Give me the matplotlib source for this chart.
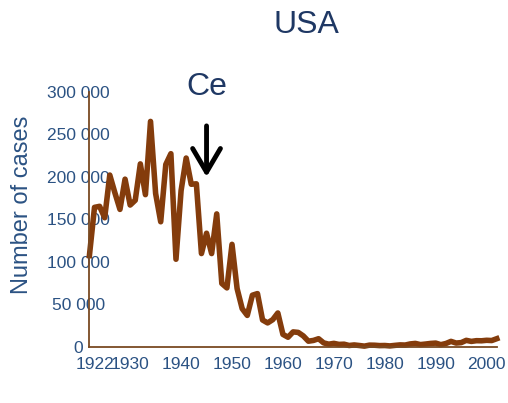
import numpy as np
import matplotlib.pyplot as plt
from matplotlib.transforms import ScaledTranslation

plt.rcParams['font.family'] = ['Liberation Sans', 'DejaVu Sans']

# reported pertussis cases, USA
years = np.arange(1922, 2003)
cases = [107473, 164191, 165418, 152003, 202210, 181411, 161799, 197371,
         166914, 172559, 215343, 179135, 265269, 180518, 147237, 214652,
         227319, 103188, 183866, 222202, 191383, 191890, 109873, 133792,
         109860, 156517, 74715, 69479, 120718, 68687, 45030, 37129,
         60886, 62786, 31732, 28295, 32148, 40005, 14809, 11468,
         17749, 17135, 13005, 6799, 7717, 9718, 4810, 3285,
         4249, 3036, 3287, 1759, 2402, 1738, 1010, 2177,
         2063, 1623, 1730, 1248, 1895, 2463, 2276, 3589,
         4195, 2823, 3450, 4157, 4570, 2719, 4083, 6586,
         4617, 5137, 7796, 6564, 7405, 7288, 7867, 7580, 9771]

xticks = [1922, 1930, 1940, 1950, 1960, 1970, 1980, 1990, 2000]
yticks = [0, 50000, 100000, 150000, 200000, 250000, 300000]
ytick_labels = ['0', '50 000', '100 000', '150 000', '200 000', '250 000', '300 000']

vaccine_year = 1945
vaccine_level = 200000

line_color = '#843c0c'
text_color = '#2b5283'

fig = plt.figure(figsize=(5.08, 4.03), dpi=100)
ax = fig.add_axes([0.176, 0.139, 0.802, 0.633])

ax.plot(years, cases, color=line_color, lw=4, solid_joinstyle='round', clip_on=False)

ax.set_xlim(1922, 2002)
ax.set_ylim(0, 300000)

for side in ['top', 'right']:
    ax.spines[side].set_visible(False)
for side in ['left', 'bottom']:
    ax.spines[side].set_color('#7a4a22')
    ax.spines[side].set_linewidth(1.3)

ax.set_xticks(xticks)
ax.set_yticks(yticks)
ax.set_yticklabels(ytick_labels)
ax.tick_params(axis='both', length=0, labelsize=12.5, labelcolor=text_color)
ax.tick_params(axis='y', pad=8)
ax.tick_params(axis='x', pad=7)
for lab in ax.get_yticklabels():
    lab.set_horizontalalignment('center')

# first year label runs into the next one
first = ax.get_xticklabels()[0]
first.set_transform(first.get_transform() + ScaledTranslation(4 / 72, 0, fig.dpi_scale_trans))

fig.text(0.043, 0.492, 'Number of cases', fontsize=17, color=text_color,
         rotation=90, ha='center', va='center')

# vaccine introduction
ax.annotate('', xy=(vaccine_year, vaccine_level), xytext=(vaccine_year, 260000),
            arrowprops=dict(arrowstyle='->, head_length=0.85, head_width=0.5',
                            mutation_scale=20, lw=3.5, color='black',
                            shrinkA=0, shrinkB=0),
            annotation_clip=False)
ax.text(vaccine_year, 306000, 'Ce', fontsize=23, color='#1f3864',
        ha='center', va='center', clip_on=False)

fig.text(0.604, 0.938, 'USA', fontsize=23, color='#1f3864', ha='center', va='center')

fig.savefig('out.png', dpi=100)
